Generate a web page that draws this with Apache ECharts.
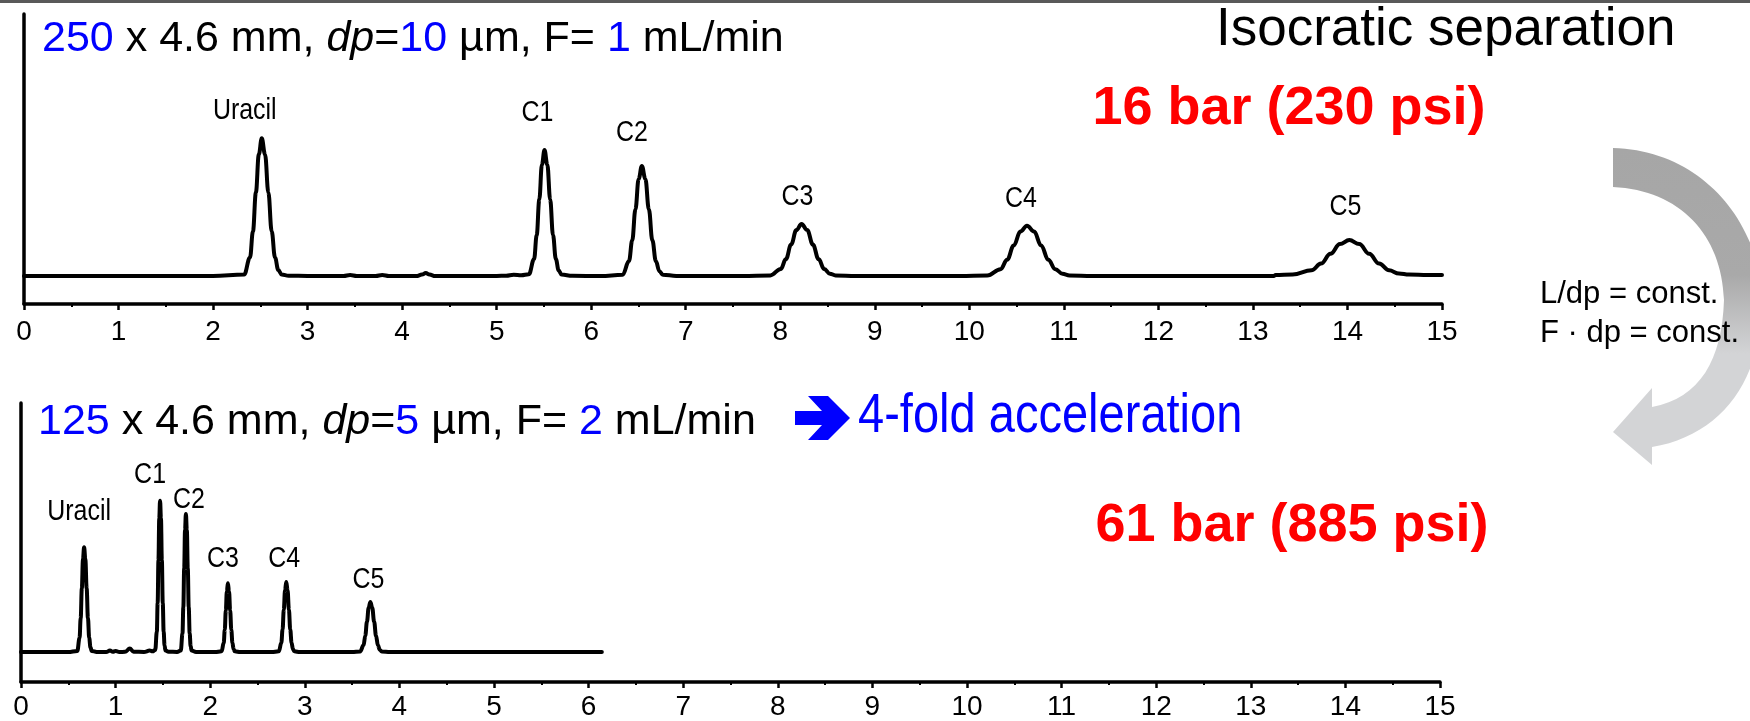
<!DOCTYPE html>
<html>
<head>
<meta charset="utf-8">
<script src="https://cdn.jsdelivr.net/npm/echarts@6/dist/echarts.min.js"></script>
<style>
  html, body { margin: 0; padding: 0; background: #fff; }
  #chart { width: 1750px; height: 721px; }
</style>
</head>
<body>
<div id="chart"></div>
<script>
// Retention time axis ticks (min)
const timeTicksMin = 0;
const timeTicksMax = 15;
const timeTickStep = 1;

// 250 x 4.6 mm column, 10 µm, 1 mL/min: [time (min), detector signal]
const chromA = [
  [0, 0], [2.0, 0], [2.329, 1.5], [2.391, 18.6], [2.422, 44.7], [2.453, 83.5], [2.484, 121.5],
  [2.515, 137.7], [2.55, 121.5], [2.585, 83.5], [2.62, 44.7], [2.655, 18.6], [2.69, 6.0],
  [2.725, 1.5], [2.8, 0.3], [3.0, 0], [3.38, 0], [3.45, 1.0], [3.52, 0], [3.72, 0], [3.79, 1.0],
  [3.86, 0], [4.15, 0], [4.21, 1.4], [4.25, 3.0], [4.29, 1.4], [4.35, 0], [5.0, 0], [5.1, 0.3],
  [5.18, 1.3], [5.26, 0.8], [5.341, 1.8], [5.396, 17.0], [5.4235, 40.9], [5.451, 76.4],
  [5.4785, 111.2], [5.506, 126], [5.536, 111.2], [5.566, 76.4], [5.596, 40.9], [5.626, 17.0],
  [5.656, 5.5], [5.686, 1.4], [5.8, 0.2], [6.1, 0], [6.332, 1.2], [6.40, 14.9], [6.434, 35.7],
  [6.468, 66.7], [6.502, 97.1], [6.536, 110], [6.573, 97.1], [6.61, 66.7], [6.647, 35.7],
  [6.684, 14.9], [6.721, 4.8], [6.758, 1.2], [6.9, 0.1], [7.6, 0], [7.895, 0.6], [8.005, 7.0],
  [8.06, 16.9], [8.115, 31.5], [8.17, 45.9], [8.225, 52], [8.285, 45.9], [8.345, 31.5],
  [8.405, 16.9], [8.465, 7.0], [8.525, 2.3], [8.585, 0.6], [8.8, 0], [9.9, 0], [10.19, 0.6],
  [10.33, 6.8], [10.40, 16.3], [10.47, 30.5], [10.54, 44.4], [10.61, 50.3], [10.685, 44.4],
  [10.76, 30.5], [10.835, 16.3], [10.91, 6.8], [10.985, 2.2], [11.06, 0.6], [11.3, 0],
  [13.22, 0], [13.24, 1], [13.42, 1.4], [13.62, 5.7], [13.72, 12.4], [13.82, 22.2],
  [13.92, 31.9], [14.02, 36], [14.125, 31.9], [14.23, 22.2], [14.335, 12.4], [14.44, 5.7],
  [14.545, 2.5], [14.65, 1.4], [14.85, 1], [15, 1]
];

// 125 x 4.6 mm column, 5 µm, 2 mL/min: [time (min), detector signal]
const chromB = [
  [0, 0], [0.5, 0], [0.595, 1.2], [0.619, 14.2], [0.631, 34.2], [0.643, 63.9], [0.655, 92.9],
  [0.667, 105.3], [0.6805, 92.9], [0.694, 63.9], [0.7075, 34.2], [0.721, 14.2], [0.7345, 4.6],
  [0.748, 1.2], [0.8, 0.2], [0.9, 0], [0.94, 1.5], [0.97, 0.3], [1.0, 1.2], [1.04, 0],
  [1.1, 0.3], [1.15, 3.5], [1.19, 0.3], [1.3, 0.2], [1.36, 1.5], [1.39, 0.8], [1.419, 2.2],
  [1.436, 20.6], [1.4445, 49.4], [1.453, 92.2], [1.4615, 134.1], [1.47, 152], [1.4795, 134.1],
  [1.489, 92.2], [1.4985, 49.4], [1.508, 20.6], [1.5175, 6.7], [1.527, 1.7], [1.56, 0.3],
  [1.65, 0.2], [1.689, 1.5], [1.707, 18.8], [1.716, 45.0], [1.725, 84.1], [1.734, 122.4],
  [1.743, 138.7], [1.753, 122.4], [1.763, 84.1], [1.773, 45.0], [1.783, 18.8], [1.793, 6.1],
  [1.803, 1.5], [1.85, 0.2], [2.05, 0], [2.121, 0.8], [2.143, 9.3], [2.154, 22.4],
  [2.165, 41.8], [2.176, 60.9], [2.187, 69], [2.199, 60.9], [2.211, 41.8], [2.223, 22.4],
  [2.235, 9.3], [2.247, 3.0], [2.259, 0.8], [2.32, 0], [2.65, 0], [2.726, 0.8], [2.752, 9.5],
  [2.765, 22.8], [2.778, 42.6], [2.791, 62.0], [2.804, 70.3], [2.818, 62.0], [2.832, 42.6],
  [2.846, 22.8], [2.86, 9.5], [2.874, 3.1], [2.888, 0.8], [2.95, 0], [3.5, 0], [3.585, 0.6],
  [3.621, 6.8], [3.639, 16.3], [3.657, 30.5], [3.675, 44.4], [3.693, 50.3], [3.713, 44.4],
  [3.733, 30.5], [3.753, 16.3], [3.773, 6.8], [3.793, 2.2], [3.813, 0.6], [3.9, 0], [6.14, 0]
];

// Peak identities and apex positions
const peakNames = ['Uracil', 'C1', 'C2', 'C3', 'C4', 'C5'];
const apexTimeA = [2.515, 5.506, 6.536, 8.225, 10.61, 14.02];
const apexSignalA = [137.7, 126, 110, 52, 50.3, 36];
const apexTimeB = [0.667, 1.47, 1.743, 2.187, 2.804, 3.693];
const apexSignalB = [105.3, 152, 138.7, 69, 70.3, 50.3];

// Label placement relative to each apex, px: [dx, gap above apex]
const labelShiftA = [[-17, 27], [-7, 37], [-10, 33], [-4, 27], [-6, 27], [-4, 33]];
const labelShiftB = [[-5, 35], [-10, 26], [3, 14], [-5, 24], [-2, 23], [-2, 22]];

const SANS = '"Liberation Sans", Arial, Helvetica, sans-serif';
const BLUE = '#0000ff';
const RED = '#ff0000';
const CONDENSE = 0.86; // horizontal squeeze for the condensed annotation lettering

// Curved grey arrow linking the two columns (decoration)
const curvedArrowPath =
  'M1613 148 C1700 150 1760 220 1762 300 C1762 380 1722 435 1652 447 L1652 465 ' +
  'L1613 432 L1652 388 L1652 407 C1700 398 1722 360 1724 300 C1722 235 1680 190 1613 187 Z';
echarts.graphic.registerShape('curvedArrow', echarts.graphic.extendPath(curvedArrowPath, {}));

function timeAxis(gridIndex, labelMargin) {
  return {
    gridIndex,
    type: 'value',
    min: timeTicksMin,
    max: timeTicksMax,
    interval: timeTickStep,
    axisLine: { onZero: false, lineStyle: { color: '#000', width: 3.5 } },
    axisTick: { show: true, length: 6, lineStyle: { color: '#000', width: 2.5 } },
    minorTick: { show: true, splitNumber: 2, length: 3, lineStyle: { color: '#000', width: 2 } },
    splitLine: { show: false },
    minorSplitLine: { show: false },
    axisLabel: { color: '#000', fontSize: 28, fontFamily: SANS, margin: labelMargin }
  };
}

function signalAxis(gridIndex, min, max) {
  return {
    gridIndex,
    type: 'value',
    min, max,
    axisLine: { show: true, onZero: false, lineStyle: { color: '#000', width: 3.5 } },
    axisTick: { show: false },
    axisLabel: { show: false },
    splitLine: { show: false }
  };
}

const traceStyle = { color: '#000', width: 4, join: 'round', cap: 'round' };

const chart = echarts.init(document.getElementById('chart'), null, { renderer: 'canvas' });

chart.setOption({
  animation: false,
  backgroundColor: '#fff',
  grid: [
    { left: 24, right: 308, top: 14, height: 290 },
    { left: 21, right: 310, top: 403, height: 280 }
  ],
  xAxis: [timeAxis(0, 14), timeAxis(1, 11)],
  yAxis: [signalAxis(0, -28, 262), signalAxis(1, -30, 250)],
  series: [
    {
      type: 'line', xAxisIndex: 0, yAxisIndex: 0, data: chromA, showSymbol: false, symbol: 'none',
      smooth: 0.4, smoothMonotone: 'x', lineStyle: traceStyle, silent: true
    },
    {
      type: 'line', xAxisIndex: 1, yAxisIndex: 1, data: chromB, showSymbol: false, symbol: 'none',
      smooth: 0.4, smoothMonotone: 'x', lineStyle: traceStyle, silent: true
    }
  ]
});

// Peak names, positioned from each apex through the chart's own scales
function peakLabels(gridIndex, times, signals, shifts) {
  return peakNames.map((name, i) => {
    const p = chart.convertToPixel({ xAxisIndex: gridIndex, yAxisIndex: gridIndex }, [times[i], signals[i]]);
    return {
      type: 'text', x: p[0] + shifts[i][0], y: p[1] - shifts[i][1], scaleX: CONDENSE, z: 10,
      style: {
        text: name, fill: '#000', font: '29px ' + SANS,
        textAlign: 'center', textVerticalAlign: 'middle'
      }
    };
  });
}

function columnLine(x, y, len, dp, flow) {
  return {
    type: 'text', x, y,
    style: {
      text: '{b|' + len + '} x 4.6 mm, {i|dp}={b|' + dp + '} µm, F= {b|' + flow + '} mL/min',
      fill: '#000', font: '43px ' + SANS, textVerticalAlign: 'middle',
      rich: {
        b: { fill: BLUE, color: BLUE, fontSize: 43, fontFamily: SANS },
        i: { fontStyle: 'italic', fontSize: 43, fontFamily: SANS }
      }
    }
  };
}

chart.setOption({
  graphic: [
    // header rule
    { type: 'rect', shape: { x: 0, y: 0, width: 1750, height: 3 }, style: { fill: '#595959' } },
    {
      type: 'curvedArrow', z: 0,
      style: {
        fill: new echarts.graphic.LinearGradient(0, 0, 0, 1, [
          { offset: 0, color: '#a6a6a6' },
          { offset: 0.4, color: '#a9a9a9' },
          { offset: 0.65, color: '#d3d4d6' },
          { offset: 1, color: '#d3d4d6' }
        ])
      }
    },
    {
      type: 'text', x: 1216, y: 30,
      style: { text: 'Isocratic separation', fill: '#000', font: '53px ' + SANS, textVerticalAlign: 'middle' }
    },
    columnLine(42, 39, 250, 10, 1),
    columnLine(38, 422, 125, 5, 2),
    {
      type: 'polygon',
      shape: { points: [[795, 411], [822, 411], [808, 396], [828, 396], [850, 418], [828, 440], [808, 440], [822, 425], [795, 425]] },
      style: { fill: BLUE }
    },
    {
      type: 'text', x: 858, y: 417, scaleX: 0.84,
      style: { text: '4-fold acceleration', fill: BLUE, font: '56px ' + SANS, textVerticalAlign: 'middle' }
    },
    {
      type: 'text', x: 1289, y: 109,
      style: { text: '16 bar (230 psi)', fill: RED, font: 'bold 54px ' + SANS, textAlign: 'center', textVerticalAlign: 'middle' }
    },
    {
      type: 'text', x: 1292, y: 526,
      style: { text: '61 bar (885 psi)', fill: RED, font: 'bold 54px ' + SANS, textAlign: 'center', textVerticalAlign: 'middle' }
    },
    {
      type: 'text', x: 1540, y: 294,
      style: { text: 'L/dp = const.', fill: '#000', font: '31px ' + SANS, textVerticalAlign: 'middle' }
    },
    {
      type: 'text', x: 1540, y: 333,
      style: { text: 'F \u00b7 dp = const.', fill: '#000', font: '31px ' + SANS, textVerticalAlign: 'middle' }
    }
  ].concat(
    peakLabels(0, apexTimeA, apexSignalA, labelShiftA),
    peakLabels(1, apexTimeB, apexSignalB, labelShiftB)
  )
});
</script>
</body>
</html>
